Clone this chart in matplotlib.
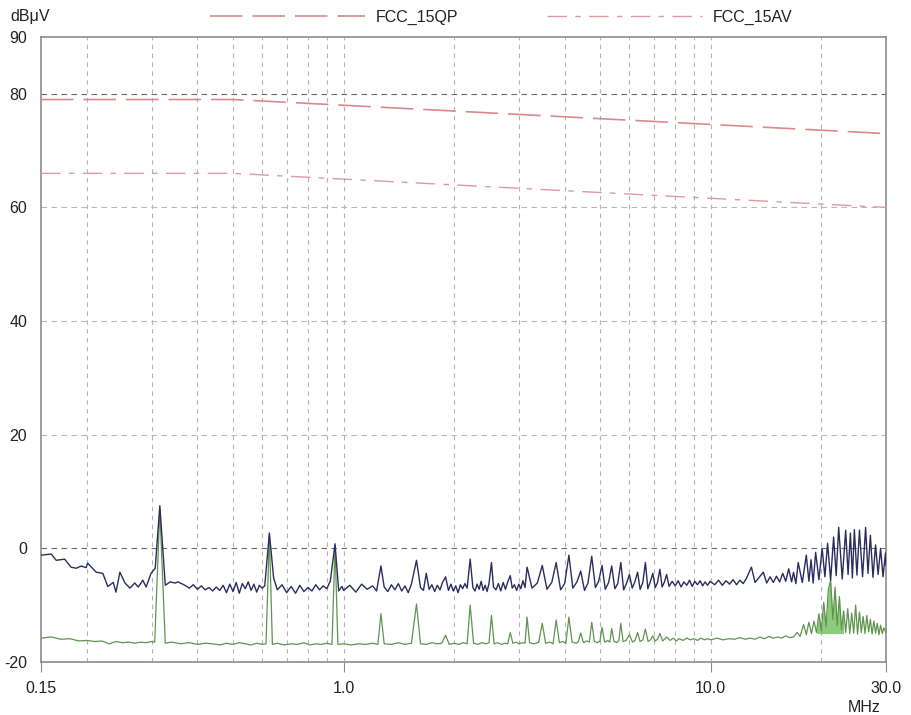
# Conducted emission scan vs FCC part 15 limits

import matplotlib
matplotlib.use("Agg")
import numpy as np
import matplotlib.pyplot as plt

plt.rcParams['font.family'] = ['Liberation Sans', 'DejaVu Sans']

# DATA -----------------------------------------------------------

# limit lines (MHz, dBuV)
lim_freq = [0.15, 0.5, 30.0]
qp_limit = [79.0, 79.0, 73.0]
av_limit = [66.0, 66.0, 60.0]

# peak detector trace
pk_freq = [
    0.150, 0.160, 0.165, 0.174, 0.181, 0.187, 0.193, 0.199, 0.201, 0.212,
    0.221, 0.228, 0.236, 0.240, 0.246, 0.254, 0.262, 0.270, 0.276, 0.284,
    0.290, 0.299, 0.307, 0.316, 0.327, 0.337, 0.348, 0.354, 0.370, 0.38,
    0.39, 0.40, 0.41, 0.42, 0.43, 0.44, 0.45, 0.46, 0.47, 0.48,
    0.49, 0.50, 0.51, 0.52, 0.53, 0.54, 0.55, 0.56, 0.57, 0.58,
    0.59, 0.60, 0.61, 0.628, 0.645, 0.66, 0.68, 0.70, 0.72, 0.74,
    0.76, 0.78, 0.80, 0.82, 0.84, 0.86, 0.88, 0.90, 0.92, 0.948,
    0.97, 0.99, 1.00, 1.04, 1.08, 1.12, 1.16, 1.20, 1.23, 1.264,
    1.29, 1.32, 1.35, 1.38, 1.41, 1.44, 1.47, 1.50, 1.53, 1.58,
    1.62, 1.65, 1.68, 1.71, 1.74, 1.77, 1.80, 1.83, 1.86, 1.896,
    1.93, 1.96, 1.99, 2.02, 2.05, 2.08, 2.11, 2.14, 2.17, 2.212,
    2.25, 2.28, 2.31, 2.34, 2.37, 2.40, 2.43, 2.46, 2.49, 2.528,
    2.56, 2.60, 2.64, 2.68, 2.72, 2.76, 2.80, 2.844, 2.88, 2.92,
    2.96, 3.00, 3.04, 3.08, 3.12, 3.16, 3.26, 3.37, 3.476, 3.58,
    3.69, 3.792, 3.90, 4.00, 4.108, 4.21, 4.32, 4.424, 4.53, 4.63,
    4.74, 4.85, 4.95, 5.056, 5.16, 5.27, 5.372, 5.48, 5.58, 5.688,
    5.79, 5.90, 6.004, 6.11, 6.21, 6.32, 6.42, 6.53, 6.636, 6.74,
    6.85, 6.952, 7.06, 7.16, 7.268, 7.37, 7.48, 7.58, 7.70, 7.85,
    8.00, 8.15, 8.30, 8.45, 8.60, 8.75, 8.90, 9.05, 9.20, 9.35,
    9.50, 9.65, 9.80, 9.95, 10.25, 10.5, 10.75, 11.0, 11.25, 11.5,
    11.75, 12.0, 12.25, 12.5, 12.9, 13.2, 13.5, 13.9, 14.2, 14.5,
    14.8, 15.1, 15.4, 15.7, 16.0, 16.3, 16.6, 16.8, 17.05, 17.3,
    17.75, 18.2, 18.5, 18.75, 19.0, 19.3, 19.7, 20.1, 20.45, 20.8,
    21.2, 21.6, 21.95, 22.3, 22.8, 23.3, 23.65, 24.0, 24.3, 24.6,
    25.0, 25.4, 25.9, 26.4, 26.8, 27.2, 27.65, 28.1, 28.55, 29.0,
    29.45, 29.9, 30.0,
]
pk_level = [
    -1.2, -1.0, -2.1, -1.9, -3.3, -3.5, -3.1, -3.4, -2.6, -4.2,
    -4.4, -6.7, -6.0, -7.7, -4.2, -6.1, -7.0, -6.1, -6.8, -5.6,
    -6.8, -4.4, -3.5, 7.5, -6.5, -5.9, -6.1, -5.9, -6.5, -7.0,
    -6.4, -7.2, -6.6, -7.3, -6.9, -7.5, -6.8, -7.4, -6.5, -7.8,
    -6.3, -7.6, -6.0, -7.9, -6.2, -7.1, -5.9, -7.4, -6.3, -7.7,
    -6.5, -7.0, -6.6, 2.7, -5.2, -7.3, -6.4, -7.8, -6.7, -7.9,
    -6.5, -7.6, -6.9, -7.5, -6.4, -7.3, -6.6, -7.1, -5.8, 0.8,
    -7.5, -6.7, -7.4, -6.5, -7.7, -6.3, -7.2, -6.6, -7.5, -3.1,
    -6.8, -7.6, -6.4, -7.3, -6.2, -7.5, -6.6, -7.8, -6.3, -2.1,
    -6.9, -7.4, -4.4, -7.2, -6.4, -7.6, -6.5, -7.3, -6.0, -5.0,
    -7.4, -6.3, -7.5, -6.6, -7.8, -6.4, -7.1, -6.2, -7.0, -1.9,
    -6.9, -7.5, -6.3, -7.2, -5.8, -7.4, -6.5, -7.6, -6.1, -2.5,
    -6.8, -7.3, -6.2, -7.5, -6.0, -7.2, -5.9, -4.8, -7.0, -6.4,
    -7.4, -6.3, -7.1, -5.7, -6.9, -3.3, -7.0, -6.1, -3.0, -7.2,
    -6.0, -2.5, -7.3, -6.2, -1.2, -7.0, -5.9, -4.0, -7.4, -6.1,
    -1.4, -6.9, -5.8, -3.0, -7.2, -6.0, -3.1, -7.1, -6.2, -2.5,
    -7.3, -6.1, -4.6, -7.0, -5.9, -4.2, -7.2, -6.0, -2.5, -7.1,
    -5.8, -4.4, -6.9, -6.0, -3.7, -6.8, -5.9, -4.6, -6.7, -5.8,
    -6.6, -5.7, -6.8, -5.9, -6.5, -5.6, -6.7, -5.8, -6.4, -5.7,
    -6.6, -5.9, -6.5, -5.8, -6.4, -5.6, -6.5, -5.7, -6.3, -5.5,
    -6.4, -5.6, -6.2, -5.3, -3.3, -6.0, -5.2, -4.2, -6.1, -5.0,
    -6.0, -4.9, -5.9, -4.4, -5.8, -3.6, -5.9, -4.2, -6.2, -2.5,
    -6.0, -1.2, -5.8, -2.0, -6.1, -0.7, -5.5, 0.0, -5.0, 0.9,
    -5.6, 2.0, -4.8, 3.7, -5.4, 3.2, -4.6, 2.7, -5.2, 3.3,
    -4.7, 3.2, -5.0, 3.7, -4.4, 2.3, -5.1, 0.6, -4.6, 0.0,
    -5.0, -0.8, -3.0,
]

# average detector trace
av_freq = [
    0.150, 0.160, 0.170, 0.180, 0.190, 0.200, 0.210, 0.220, 0.230, 0.240,
    0.250, 0.260, 0.270, 0.280, 0.290, 0.300, 0.306, 0.316, 0.327, 0.340,
    0.36, 0.38, 0.40, 0.42, 0.44, 0.46, 0.48, 0.50, 0.52, 0.54,
    0.56, 0.58, 0.60, 0.615, 0.628, 0.64, 0.66, 0.69, 0.72, 0.75,
    0.78, 0.81, 0.84, 0.87, 0.90, 0.93, 0.948, 0.965, 1.00, 1.05,
    1.10, 1.15, 1.20, 1.24, 1.264, 1.29, 1.35, 1.41, 1.47, 1.53,
    1.58, 1.62, 1.68, 1.74, 1.80, 1.85, 1.896, 1.94, 2.00, 2.06,
    2.12, 2.17, 2.212, 2.26, 2.32, 2.38, 2.44, 2.49, 2.528, 2.57,
    2.63, 2.69, 2.75, 2.80, 2.844, 2.89, 2.95, 3.01, 3.07, 3.12,
    3.16, 3.21, 3.30, 3.40, 3.476, 3.55, 3.65, 3.72, 3.792, 3.87,
    3.95, 4.03, 4.108, 4.19, 4.30, 4.36, 4.424, 4.50, 4.60, 4.67,
    4.74, 4.82, 4.92, 4.99, 5.056, 5.14, 5.24, 5.31, 5.372, 5.45,
    5.55, 5.62, 5.688, 5.77, 5.88, 6.004, 6.12, 6.22, 6.32, 6.42,
    6.53, 6.636, 6.75, 6.85, 6.952, 7.06, 7.16, 7.268, 7.40, 7.58,
    7.75, 7.90, 8.05, 8.2, 8.4, 8.6, 8.8, 9.0, 9.2, 9.4,
    9.6, 9.8, 10.0, 10.4, 10.8, 11.2, 11.6, 12.0, 12.4, 12.8,
    13.2, 13.6, 14.0, 14.4, 14.8, 15.2, 15.6, 16.0, 16.4, 16.8,
    17.2, 17.5, 17.9, 18.2, 18.5, 18.8, 19.1, 19.4, 19.7, 20.0,
    20.3, 20.6, 20.9, 21.2, 21.5, 21.8, 22.1, 22.4, 22.7, 23.0,
    23.3, 23.6, 23.9, 24.2, 24.5, 24.8, 25.1, 25.4, 25.7, 26.0,
    26.3, 26.6, 26.9, 27.2, 27.5, 27.8, 28.1, 28.4, 28.7, 29.0,
    29.3, 29.6, 30.0,
]
av_level = [
    -15.8, -15.6, -16.0, -15.9, -16.3, -16.2, -16.4, -16.3, -16.8, -16.4,
    -16.6, -16.5, -16.7, -16.5, -16.6, -16.4, -16.5, 6.8, -16.7, -16.5,
    -16.8, -16.6, -16.9, -16.7, -16.8, -17.0, -16.7, -16.9, -16.6, -16.8,
    -17.0, -16.7, -16.9, -16.8, 2.4, -16.9, -16.7, -17.0, -16.8, -16.9,
    -16.6, -17.0, -16.8, -16.9, -16.7, -16.9, 0.5, -16.9, -16.8, -17.0,
    -16.8, -16.9, -16.7, -16.9, -11.5, -16.8, -16.9, -16.6, -16.9, -16.7,
    -9.8, -16.8, -16.9, -16.6, -16.8, -16.7, -15.3, -16.9, -16.7, -16.9,
    -16.6, -16.8, -10.0, -16.7, -16.9, -16.6, -16.8, -16.6, -11.8, -16.8,
    -16.6, -16.9, -16.7, -16.8, -14.8, -16.7, -16.5, -16.8, -16.6, -16.7,
    -12.1, -16.6, -16.8, -16.5, -13.2, -16.7, -16.5, -16.8, -12.6, -16.6,
    -16.4, -16.7, -12.1, -16.5, -16.7, -16.4, -14.9, -16.6, -16.3, -16.5,
    -13.0, -16.4, -16.6, -16.3, -13.9, -16.5, -16.2, -16.5, -14.1, -16.4,
    -16.6, -16.2, -13.2, -16.4, -16.2, -15.2, -16.5, -16.2, -14.8, -16.4,
    -16.1, -14.2, -16.4, -16.1, -15.4, -16.3, -16.0, -15.0, -16.3, -15.6,
    -16.2, -15.8, -16.3, -15.9, -16.2, -15.8, -16.1, -15.9, -16.2, -15.8,
    -16.1, -15.9, -16.1, -15.8, -16.1, -15.9, -16.0, -15.7, -16.0, -15.8,
    -16.0, -15.6, -15.9, -15.5, -15.8, -15.6, -15.8, -15.4, -15.7, -15.6,
    -14.8, -15.5, -13.4, -15.2, -13.0, -15.0, -12.8, -14.8, -11.5, -14.5,
    -9.5, -13.8, -7.2, -5.6, -12.5, -6.8, -13.6, -8.5, -14.3, -11.0,
    -14.8, -10.6, -15.0, -11.4, -14.9, -10.0, -15.1, -11.2, -14.8, -12.0,
    -15.0, -11.8, -14.7, -12.5, -15.1, -12.8, -14.9, -13.2, -15.2, -13.5,
    -15.0, -14.0, -14.8,
]

assert len(pk_freq) == len(pk_level)
assert len(av_freq) == len(av_level)

x_labels = ['0.15', '1.0', '10.0', '30.0']
x_major = [0.15, 1.0, 10.0, 30.0]
x_grid = [0.2, 0.3, 0.4, 0.5, 0.6, 0.7, 0.8, 0.9, 1.0,
          2, 3, 4, 5, 6, 7, 8, 9, 10, 20]
y_major = [-20, 0, 20, 40, 60, 80, 90]

# PLOT -----------------------------------------------------------

W, H = 912, 715
fig = plt.figure(figsize=(W / 100, H / 100), dpi=100)
ax = fig.add_axes([41 / W, 53 / H, 845 / W, 625 / H])
ax.set_xscale('log')
ax.set_xlim(0.15, 30)
ax.set_ylim(-20, 90)

# grid
for f in x_grid:
    ax.axvline(f, color='#b4b4b4', lw=0.8, ls=(0, (4, 4)), zorder=1)
for lvl in [20, 40, 60]:
    ax.axhline(lvl, color='#b8b8b8', lw=0.8, ls=(0, (5, 4)), zorder=1)
for lvl in [0, 80]:
    ax.axhline(lvl, color='#6a6a6a', lw=0.8, ls=(0, (5, 4)), zorder=1)

# limits
qp_line, = ax.plot(lim_freq, qp_limit, color='#d98a8a', lw=1.2,
                   ls=(0, (19.5, 6)), zorder=3)
av_line, = ax.plot(lim_freq, av_limit, color='#dc9aa4', lw=1.0,
                   ls=(0, (14, 6, 4, 6)), zorder=3)

# measurement traces
av_f = np.array(av_freq)
av_l = np.array(av_level)
band = (av_f >= 19.4) & (av_f <= 23.0)
ax.fill_between(av_f[band], av_l[band], -15.0, color='#6fbf5a', alpha=0.8,
                lw=0, zorder=2)
ax.plot(av_freq, av_level, color='#5f9450', lw=0.9, zorder=4)
ax.plot(pk_freq, pk_level, color='#2b2d5e', lw=1.0, zorder=5)

# axes styling
for sp in ax.spines.values():
    sp.set_color('#8c8c8c')
    sp.set_linewidth(1.2)

ax.set_xticks(x_major)
ax.set_xticklabels(x_labels)
ax.set_xticks([], minor=True)
ax.set_yticks(y_major)
ax.set_yticklabels([str(v) for v in y_major])
ax.tick_params(axis='x', which='major', direction='out', length=7,
               color='#8c8c8c', pad=7, labelsize=11.5, labelcolor='#222222')
ax.tick_params(axis='y', which='major', length=0, pad=10,
               labelsize=11.5, labelcolor='#222222')

fig.text(10 / W, 1 - 17 / H, 'dBμV', ha='left', va='center',
         fontsize=11.5, color='#222222')
fig.text(864 / W, 1 - 707 / H, 'MHz', ha='center', va='center',
         fontsize=11.5, color='#222222')

fig.legend([qp_line, av_line], ['FCC_15QP', 'FCC_15AV'],
           loc='center left', bbox_to_anchor=(210 / W, 1 - 17 / H),
           ncol=2, frameon=False, handlelength=9.7, handletextpad=0.65,
           columnspacing=5.6, borderpad=0, borderaxespad=0, fontsize=11.5,
           labelcolor='#222222')

fig.savefig('out.png', dpi=100)
